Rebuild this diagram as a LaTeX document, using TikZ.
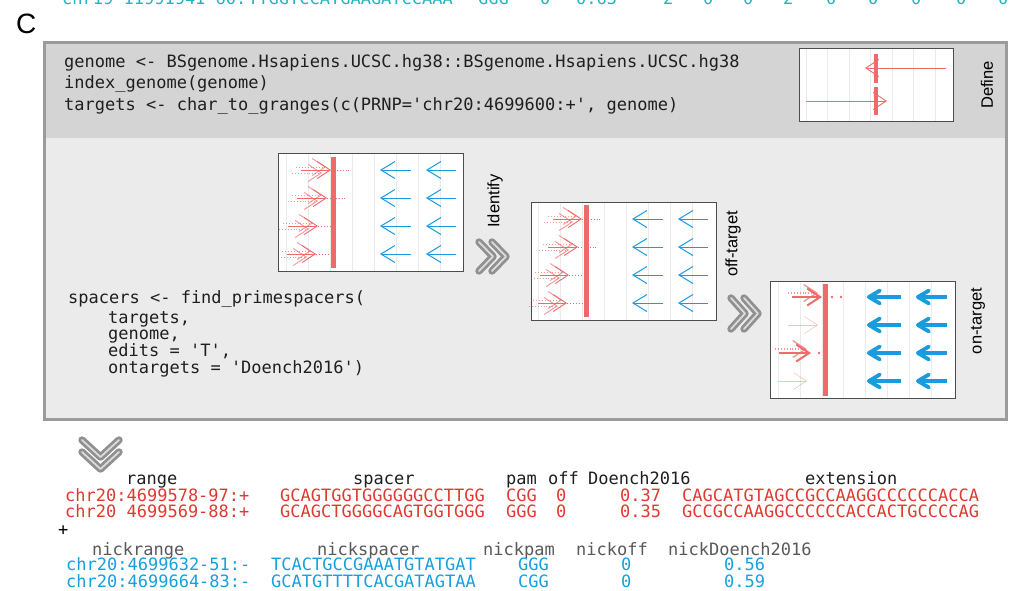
\documentclass[tikz,border=0pt]{standalone}
\usepackage{fontspec}
\setmainfont{Liberation Sans}
\setmonofont{DejaVu Sans Mono}
\usetikzlibrary{arrows.meta, positioning}

\definecolor{boxgray}{HTML}{9B9B9B}
\definecolor{definefill}{HTML}{D4D4D4}
\definecolor{panelfill}{HTML}{EBEBEB}
\definecolor{gridgray}{HTML}{EBEBEB}
\definecolor{framegray}{HTML}{4D4D4D}
\definecolor{spacerred}{HTML}{EF6B6B}
\definecolor{nickblue}{HTML}{1A9BDE}
\definecolor{tabred}{HTML}{DF3A30}
\definecolor{tabblue}{HTML}{17A0DF}
\definecolor{tabcyan}{HTML}{22B4C4}
\definecolor{chevgray}{HTML}{909090}
\definecolor{chevlight}{HTML}{DCDCDC}

\tikzset{
  codeline/.style={font=\fontsize{17}{17}\ttfamily, anchor=base west, inner sep=0pt, text=black!88},
  cell/.style={font=\fontsize{17}{17}\ttfamily, anchor=base west, inner sep=0pt},
  sidelabel/.style={font=\fontsize{16.5}{16.5}\selectfont, rotate=90, inner sep=0pt},
  gridline/.style={gridgray, line width=0.6pt},
  plotframe/.style={framegray, line width=1pt},
  spacerbar/.style={spacerred, line width=5pt},
  spacerarrow/.style={spacerred, line width=0.9pt, -{Straight Barb[length=13pt, width=17pt]}},
  jitterarrow/.style={spacerarrow, dotted, opacity=0.7},
  nickarrow/.style={nickblue, line width=1pt, -{Straight Barb[length=14pt, width=17pt]}},
  ontarget/.style={nickblue, line width=3.8pt, -{Straight Barb[length=11pt, width=13pt, round]}},
  chevron/.style={draw=chevgray, double=chevlight, double distance=1.8pt, line width=2.8pt, line cap=round, line join=round},
}

\begin{document}
\begin{tikzpicture}[x=1pt, y=-1pt]
  \useasboundingbox (0,0) rectangle (1019,590);
  \fill[white] (0,0) rectangle (1019,590);

  % cut-off row of the previous panel
  \begin{scope}
    \clip (0,0) rectangle (1019,10);
    \node[cell, text=tabcyan] (prevrange) at (62,4) {chr19 11991941-60:};
    \node[cell, text=tabcyan] (prevspacer) at (248,4) {TTGGTCCATGAAGATCCAAA};
    \node[cell, text=tabcyan] (prevpam) at (478,4) {GGG};
    \node[cell, text=tabcyan] (prevoff) at (540,4) {0};
    \node[cell, text=tabcyan] (prevscore) at (576,4) {0.65};
    \foreach \px/\pv in {663/2, 703/0, 743/0, 783/2, 826/0, 868/0, 911/0, 956/0, 998/0}
      \node[cell, text=tabcyan] at (\px,4) {\pv};
  \end{scope}

  \node[font=\fontsize{28}{28}\selectfont, anchor=base west, inner sep=0pt] (panelC) at (16,33) {C};

  % main box
  \fill[panelfill] (44.5,42) rectangle (1006.5,419.5);
  \fill[definefill] (44.5,42) rectangle (1006.5,138);
  \draw[boxgray, line width=3pt] (44.5,42) rectangle (1006.5,419.5);

  % define
  \node[codeline] (loadgenome) at (64,67) {genome <- BSgenome.Hsapiens.UCSC.hg38::BSgenome.Hsapiens.UCSC.hg38};
  \node[codeline] (indexgenome) at (64,88.5) {index\_genome(genome)};
  \node[codeline] (maketargets) at (64,110) {targets <- char\_to\_granges(c(PRNP='chr20:4699600:+', genome)};

  \begin{scope}[shift={(799,48)}]
    \fill[white] (0,0) rectangle (154,73);
    \foreach \gx in {0,...,6}
      \draw[gridline] (7+21.5*\gx,0) -- ++(0,73);
    \draw[spacerarrow] (147,20) -- (66,20);
    \draw[spacerarrow] (7,53) -- (88,53);
    \draw[spacerred, line width=4pt] (77,6) -- (77,35) (77,39) -- (77,67);
    \draw[plotframe] (0,0) rectangle (154,73);
  \end{scope}
  \node[sidelabel] (definelabel) at (987,85) {Define};

  % find spacers
  \node[codeline] (findspacers) at (68,303) {spacers <- find\_primespacers(};
  \node[codeline] (argtargets) at (108,323) {targets,};
  \node[codeline] (arggenome) at (108,339) {genome,};
  \node[codeline] (argedits) at (108,356) {edits = 'T',};
  \node[codeline] (argontargets) at (108,373) {ontargets = 'Doench2016')};

  % identify
  \begin{scope}[shift={(278,153)}]
    \fill[white] (0,0) rectangle (185,118);
    \foreach \gx in {0,...,7}
      \draw[gridline] (8.5+21.9*\gx,0) -- ++(0,118);
    \foreach \ry/\rs/\rt/\rd in {17/23/53/72, 45/19/49/67, 73/10/40/55, 101/9/38/55} {
      \draw[spacerred, dotted, line width=0.9pt] (\rt,\ry) -- (\rd,\ry);
      \draw[jitterarrow] (\rs-5,\ry-3) -- (\rt-5,\ry-3);
      \draw[jitterarrow] (\rs-9,\ry+3) -- (\rt-9,\ry+3);
      \draw[spacerarrow] (\rs,\ry) -- (\rt,\ry);
    }
    \draw[spacerbar] (55.5,4) -- (55.5,115);
    \foreach \ry in {17,45,73,101} {
      \draw[nickarrow] (133,\ry) -- (102,\ry);
      \draw[nickarrow] (178,\ry) -- (148,\ry);
    }
    \draw[plotframe] (0,0) rectangle (185,118);
  \end{scope}
  \node[sidelabel] (identifylabel) at (495,201) {Identify};
  \draw[chevron] (479,242) -- (493,256.5) -- (479,271) (492,242) -- (506,256.5) -- (492,271);

  % off-target
  \begin{scope}[shift={(531,202)}]
    \fill[white] (0,0) rectangle (185,118);
    \foreach \gx in {0,...,7}
      \draw[gridline] (7.5+21.9*\gx,0) -- ++(0,118);
    \foreach \ry/\rs/\rt/\rd in {17/22/51/71, 45/17/47/66, 73/9/38/54, 101/7/36/54} {
      \draw[spacerred, dotted, line width=0.9pt] (\rt,\ry) -- (\rd,\ry);
      \draw[jitterarrow] (\rs-5,\ry-3) -- (\rt-5,\ry-3);
      \draw[jitterarrow] (\rs-9,\ry+3) -- (\rt-9,\ry+3);
      \draw[spacerarrow] (\rs,\ry) -- (\rt,\ry);
    }
    \draw[spacerbar] (55,3) -- (55,115);
    \foreach \ry in {17,45,73,101} {
      \draw[nickarrow] (132,\ry) -- (101,\ry);
      \draw[nickarrow] (177,\ry) -- (147,\ry);
    }
    \draw[plotframe] (0,0) rectangle (185,118);
  \end{scope}
  \node[sidelabel] (offlabel) at (733,244) {off-target};
  \draw[chevron] (731,298) -- (745,313.5) -- (731,329) (744,298) -- (758,313.5) -- (744,329);

  % on-target
  \begin{scope}[shift={(770,281)}]
    \fill[white] (0,0) rectangle (185,117);
    \foreach \gx in {0,...,7}
      \draw[gridline] (8+21.9*\gx,0) -- ++(0,117);
    \foreach \ry/\rs/\rt in {44/18/48, 100/8/37}
      \draw[spacerarrow, line width=0.6pt, opacity=0.4] (\rs,\ry) -- (\rt,\ry);
    \foreach \ry/\rs/\rt in {16/22/52, 72/9/41} {
      \draw[jitterarrow, line width=1.4pt] (\rs-4,\ry-4) -- (\rt-4,\ry-4);
      \draw[spacerarrow, line width=2pt] (\rs,\ry) -- (\rt,\ry);
    }
    \fill[spacerred] (62,16) circle (1.3) (71,16) circle (1.3) (49,72) circle (1.3);
    \draw[spacerbar] (55,3) -- (55,115);
    \foreach \ry in {16,44,72,100} {
      \draw[ontarget] (131,\ry) -- (97,\ry);
      \draw[ontarget] (177,\ry) -- (146,\ry);
    }
    \draw[plotframe] (0,0) rectangle (185,117);
  \end{scope}
  \node[sidelabel] (onlabel) at (978,321) {on-target};

  % result
  \draw[chevron] (82,440) -- (100.5,457) -- (119,440) (82,452) -- (100.5,469) -- (119,452);

  \node[cell, text=black!88] (hrange) at (126,484) {range};
  \node[cell, text=black!88] (hspacer) at (353,484) {spacer};
  \node[cell, text=black!88] (hpam) at (506,484) {pam};
  \node[cell, text=black!88] (hoff) at (548,484) {off};
  \node[cell, text=black!88] (hscore) at (588,484) {Doench2016};
  \node[cell, text=black!88] (hext) at (805,484) {extension};

  \node[cell, text=tabred] (range1) at (65,501) {chr20:4699578-97:+};
  \node[cell, text=tabred] (spacer1) at (280,501) {GCAGTGGTGGGGGGCCTTGG};
  \node[cell, text=tabred] (pam1) at (506,501) {CGG};
  \node[cell, text=tabred] (off1) at (556,501) {0};
  \node[cell, text=tabred] (score1) at (620,501) {0.37};
  \node[cell, text=tabred] (ext1) at (682,501) {CAGCATGTAGCCGCCAAGGCCCCCCACCA};

  \node[cell, text=tabred] (range2) at (65,517) {chr20 4699569-88:+};
  \node[cell, text=tabred] (spacer2) at (280,517) {GCAGCTGGGGCAGTGGTGGG};
  \node[cell, text=tabred] (pam2) at (506,517) {GGG};
  \node[cell, text=tabred] (off2) at (556,517) {0};
  \node[cell, text=tabred] (score2) at (620,517) {0.35};
  \node[cell, text=tabred] (ext2) at (682,517) {GCCGCCAAGGCCCCCCACCACTGCCCCAG};

  \node[cell] (plus) at (58,535) {+};

  \node[cell, text=black!65] (hnickrange) at (92,555) {nickrange};
  \node[cell, text=black!65] (hnickspacer) at (317,555) {nickspacer};
  \node[cell, text=black!65] (hnickpam) at (483,555) {nickpam};
  \node[cell, text=black!65] (hnickoff) at (576,555) {nickoff};
  \node[cell, text=black!65] (hnickscore) at (668,555) {nickDoench2016};

  \node[cell, text=tabblue] (nickrange1) at (66,570) {chr20:4699632-51:-};
  \node[cell, text=tabblue] (nickspacer1) at (271,570) {TCACTGCCGAAATGTATGAT};
  \node[cell, text=tabblue] (nickpam1) at (518,570) {GGG};
  \node[cell, text=tabblue] (nickoff1) at (621,570) {0};
  \node[cell, text=tabblue] (nickscore1) at (724,570) {0.56};

  \node[cell, text=tabblue] (nickrange2) at (66,587) {chr20:4699664-83:-};
  \node[cell, text=tabblue] (nickspacer2) at (271,587) {GCATGTTTTCACGATAGTAA};
  \node[cell, text=tabblue] (nickpam2) at (518,587) {CGG};
  \node[cell, text=tabblue] (nickoff2) at (621,587) {0};
  \node[cell, text=tabblue] (nickscore2) at (724,587) {0.59};
\end{tikzpicture}
\end{document}
